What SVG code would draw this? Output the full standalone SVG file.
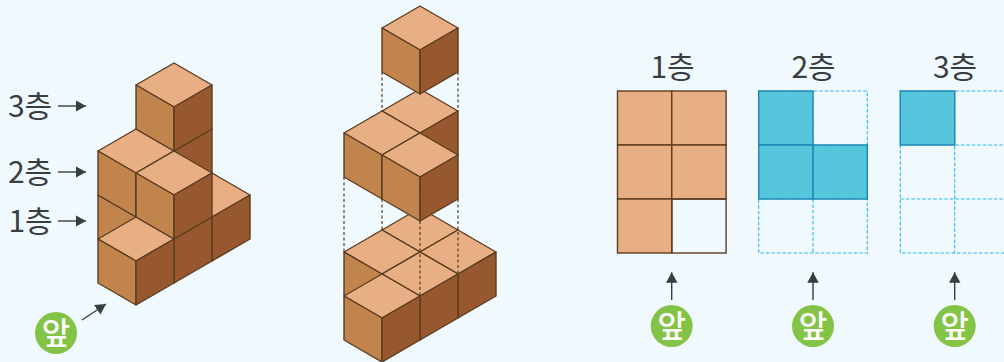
<svg xmlns="http://www.w3.org/2000/svg" xmlns:xlink="http://www.w3.org/1999/xlink" width="1004" height="362" viewBox="0 0 1004 362">
<style>
text{font-family:"Noto Sans CJK KR","Noto Sans",sans-serif}
.lab{font-size:30px;fill:#3a3d40;text-anchor:middle}
.ap{font-size:31px;fill:#fff;text-anchor:middle;font-weight:500}
.t{fill:#e7af83}.l{fill:#c2844d}.r{fill:#98582f}
.e{stroke:#5b3d20;stroke-width:1.4;stroke-linejoin:round;stroke-linecap:round}
.dot{stroke:#5b3d20;stroke-width:1.2;stroke-dasharray:3 2.5;fill:none}
.ar{stroke:#3a3d40;stroke-width:1.4;fill:none;marker-end:url(#h)}
.c{fill:#55c6dc;stroke:#1e86b4;stroke-width:1.4}
.d{fill:none;stroke:#2bb8ea;stroke-width:1.1;stroke-dasharray:3.5 2}
.g{fill:none;stroke:#5b3d20;stroke-width:1.4}
.b{fill:#e7af83;stroke:#5b3d20;stroke-width:1.4}
.o{fill:#83c447}
</style>
<defs>
<marker id="h" markerUnits="userSpaceOnUse" markerWidth="12" markerHeight="12" refX="10.500" refY="5.750" orient="auto"><path d="M0 0L10.500 5.750L0 11.500Z" fill="#3a3d40"/></marker>
<g id="cube" class="e">
<path class="t" d="M0 0L38 22L0 44L-38 22Z"/>
<path class="l" d="M-38 22L0 44V88L-38 66Z"/>
<path class="r" d="M38 22L0 44V88L38 66Z"/>
</g>
</defs>
<rect width="1004" height="362" fill="#f0f9fe"/>
<g id="stack-left">
<use xlink:href="#cube" href="#cube" x="174" y="151"/>
<use xlink:href="#cube" href="#cube" x="136" y="173"/>
<use xlink:href="#cube" href="#cube" x="212" y="173"/>
<use xlink:href="#cube" href="#cube" x="174" y="195"/>
<use xlink:href="#cube" href="#cube" x="136" y="217"/>
<use xlink:href="#cube" href="#cube" x="174" y="107"/>
<use xlink:href="#cube" href="#cube" x="136" y="129"/>
<use xlink:href="#cube" href="#cube" x="174" y="151"/>
<use xlink:href="#cube" href="#cube" x="174" y="63"/>
</g>
<g id="stack-exploded">
<use xlink:href="#cube" href="#cube" x="420" y="208"/>
<use xlink:href="#cube" href="#cube" x="382" y="230"/>
<use xlink:href="#cube" href="#cube" x="458" y="230"/>
<use xlink:href="#cube" href="#cube" x="420" y="252"/>
<use xlink:href="#cube" href="#cube" x="382" y="274"/>
<use xlink:href="#cube" href="#cube" x="420" y="89"/>
<use xlink:href="#cube" href="#cube" x="382" y="111"/>
<use xlink:href="#cube" href="#cube" x="420" y="133"/>
<use xlink:href="#cube" href="#cube" x="420" y="6"/>
</g>
<g id="connectors">
<path class="dot" d="M382 72V111M458 72V111M344 177V252M382 199V230M458 199V274M420 221V296"/>
<path class="ar" d="M58 106H86"/>
<path class="ar" d="M58 172H86"/>
<path class="ar" d="M58 221H86"/>
<path class="ar" d="M82 320L106 304"/>
<path class="ar" d="M671.700 300V272.300"/>
<path class="ar" d="M813 300V272.300"/>
<path class="ar" d="M954.700 300V272.300"/>
</g>
<g id="labels-left">
<text class="lab" x="30" y="117">3층</text>
<text class="lab" x="30" y="183">2층</text>
<text class="lab" x="30.500" y="232">1층</text>
</g>
<g id="front-left"><circle class="o" cx="56" cy="333" r="21"/><text class="ap" x="56" y="344">앞</text></g>
<g id="layer-1">
<text class="lab" x="672.500" y="78">1층</text>
<rect class="b" x="617.500" y="91" width="54.300" height="54"/>
<rect class="b" x="671.800" y="91" width="54.300" height="54"/>
<rect class="b" x="617.500" y="145" width="54.300" height="54"/>
<rect class="b" x="671.800" y="145" width="54.300" height="54"/>
<rect class="b" x="617.500" y="199" width="54.300" height="54"/>
<rect class="g" x="671.800" y="199" width="54.300" height="54"/>
<circle class="o" cx="671.700" cy="326" r="21"/><text class="ap" x="671.700" y="337">앞</text>
</g>
<g id="layer-2">
<text class="lab" x="813.500" y="78">2층</text>
<rect class="d" x="758.700" y="91" width="108.600" height="162"/>
<path class="d" d="M813 199V253M813 91V145M813 145H867M759 199H867"/>
<rect class="c" x="758.700" y="91" width="54.300" height="54"/>
<rect class="c" x="758.700" y="145" width="54.300" height="54"/>
<rect class="c" x="813" y="145" width="54.300" height="54"/>
<circle class="o" cx="813" cy="326" r="21"/><text class="ap" x="813" y="337">앞</text>
</g>
<g id="layer-3">
<text class="lab" x="955" y="78">3층</text>
<rect class="d" x="900.300" y="91" width="108.600" height="162"/>
<path class="d" d="M954.700 91V253M900.300 145H1009M900.300 199H1009"/>
<rect class="c" x="900.300" y="91" width="54.400" height="54"/>
<circle class="o" cx="954.700" cy="326" r="21"/><text class="ap" x="954.700" y="337">앞</text>
</g>
</svg>
